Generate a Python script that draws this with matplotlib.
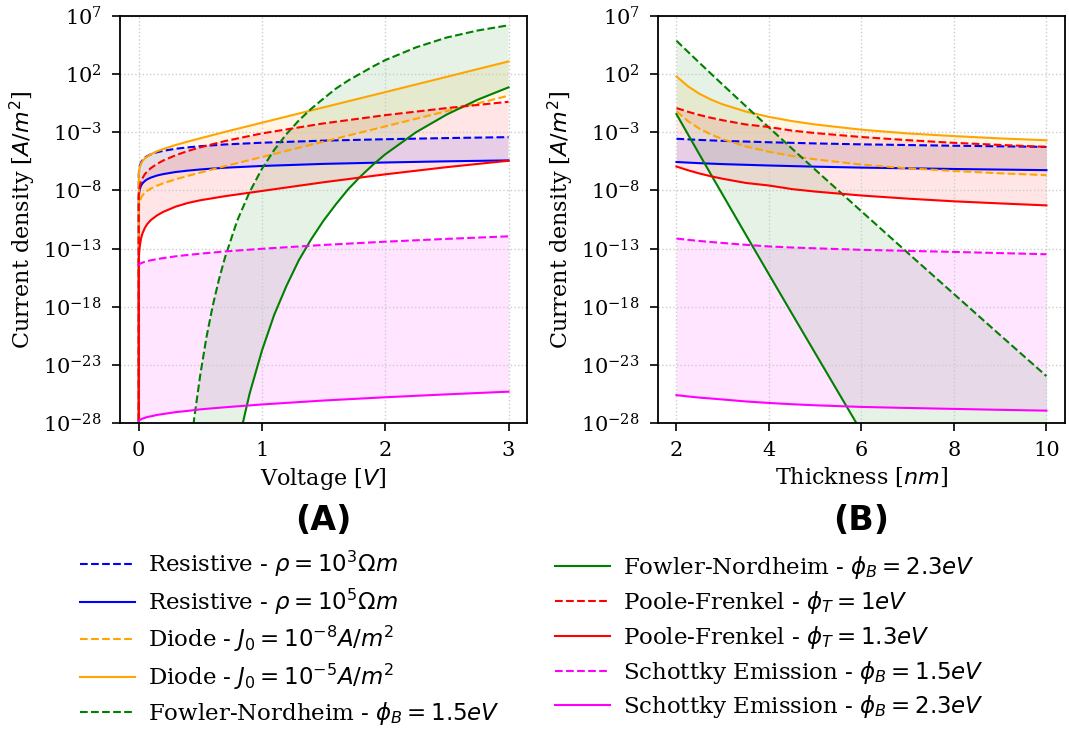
import numpy as np
import matplotlib
matplotlib.use('Agg')
import matplotlib.pyplot as plt
from matplotlib.ticker import NullLocator

plt.rcParams['font.family'] = 'serif'
plt.rcParams['font.serif'] = ['DejaVu Serif']
plt.rcParams['mathtext.fontset'] = 'dejavusans'

# valores, em log10(J [A/m^2]); -inf => J = 0
# (A) densidade de corrente x tensão
voltage = [0, 0.002, 0.005, 0.01, 0.02, 0.03, 0.05, 0.07, 0.1, 0.15, 0.2, 0.3, 0.4, 0.5, 0.7, 1.0, 1.5, 2.0, 2.5, 3.0]
res_1e3 = [-np.inf, -6.6, -6.2, -5.9, -5.6, -5.42, -5.2, -5.05, -4.9, -4.72, -4.6, -4.42, -4.3, -4.2, -4.05, -3.9, -3.72, -3.6, -3.5, -3.42]
res_1e5 = [-np.inf, -8.6, -8.2, -7.9, -7.6, -7.42, -7.2, -7.05, -6.9, -6.72, -6.6, -6.42, -6.3, -6.2, -6.05, -5.9, -5.72, -5.6, -5.5, -5.42]
diode_1e8 = [-np.inf, -9.67, -9.27, -8.96, -8.65, -8.46, -8.21, -8.04, -7.84, -7.59, -7.39, -7.05, -6.75, -6.47, -5.92, -5.13, -3.81, -2.50, -1.18, 0.14]
diode_1e5 = [-np.inf, -6.72, -6.32, -6.01, -5.70, -5.51, -5.26, -5.09, -4.89, -4.64, -4.44, -4.10, -3.80, -3.52, -2.97, -2.18, -0.86, 0.45, 1.77, 3.09]
pf_10 = [-np.inf, -8.5, -8.05, -7.65, -7.25, -6.98, -6.62, -6.38, -6.08, -5.72, -5.43, -4.98, -4.61, -4.30, -3.76, -3.10, -2.24, -1.53, -0.92, -0.38]
pf_13 = [-np.inf, -14.0, -13.35, -12.8, -12.15, -11.75, -11.25, -10.9, -10.55, -10.15, -9.85, -9.4, -9.08, -8.85, -8.5, -8.05, -7.3, -6.62, -6.0, -5.45]
se_15 = [-14.47, -14.40, -14.37, -14.32, -14.26, -14.22, -14.14, -14.09, -14.01, -13.91, -13.82, -13.67, -13.55, -13.44, -13.25, -13.02, -12.69, -12.41, -12.17, -11.95]
se_23 = [-27.9, -27.83, -27.79, -27.75, -27.69, -27.63, -27.57, -27.49, -27.43, -27.31, -27.23, -27.07, -26.96, -26.83, -26.65, -26.41, -26.07, -25.79, -25.54, -25.31]

voltage_fn = [0.3, 0.4, 0.45, 0.5, 0.55, 0.6, 0.65, 0.7, 0.8, 0.9, 1.0, 1.1, 1.2, 1.3, 1.4, 1.5, 1.6, 1.7, 1.8, 1.9, 2.0, 2.25, 2.5, 2.75, 3.0]
fn_15 = [-47.1, -32.6, -27.7, -23.9, -20.66, -18.0, -15.74, -13.8, -10.6, -8.15, -6.15, -4.52, -3.15, -1.98, -0.98, -0.10, 0.75, 1.45, 2.05, 2.65, 3.2, 4.3, 5.15, 5.75, 6.2]
fn_23 = [-98.6, -71.3, -62.2, -54.9, -48.9, -43.8, -39.6, -36.0, -30.1, -25.5, -21.8, -18.7, -16.2, -14.0, -12.2, -10.6, -9.2, -7.9, -6.8, -5.8, -4.9, -3.0, -1.47, -0.2, 0.86]

# (B) densidade de corrente x espessura
thickness = [2, 2.25, 2.5, 2.75, 3, 3.5, 4, 4.5, 5, 6, 7, 8, 9, 10]
res_1e3_t = [-3.56, -3.61, -3.66, -3.70, -3.74, -3.80, -3.86, -3.91, -3.96, -4.04, -4.10, -4.16, -4.21, -4.26]
res_1e5_t = [-5.56, -5.61, -5.66, -5.70, -5.74, -5.80, -5.86, -5.91, -5.96, -6.04, -6.10, -6.16, -6.21, -6.26]
diode_1e8_t = [-1.2, -2.05, -2.7, -3.2, -3.6, -4.22, -4.68, -5.04, -5.33, -5.78, -6.1, -6.33, -6.53, -6.69]
diode_1e5_t = [1.8, 0.95, 0.3, -0.2, -0.6, -1.22, -1.68, -2.04, -2.33, -2.78, -3.1, -3.33, -3.53, -3.69]
fn_15_t = [4.87, 3.91, 2.96, 2.02, 1.09, -0.76, -2.59, -4.41, -6.22, -9.80, -13.37, -16.91, -20.45, -23.97]
fn_23_t = [-1.44, -3.19, -4.93, -6.66, -8.38, -11.81, -15.22, -18.62, -22.0, -28.75, -35.5, -42.2, -49.0, -55.7]
pf_10_t = [-0.92, -1.24, -1.52, -1.76, -1.97, -2.33, -2.55, -2.86, -3.07, -3.41, -3.68, -3.91, -4.09, -4.26]
pf_13_t = [-5.95, -6.27, -6.55, -6.79, -7.0, -7.36, -7.58, -7.89, -8.1, -8.44, -8.71, -8.94, -9.12, -9.29]
se_15_t = [-12.14, -12.25, -12.35, -12.44, -12.52, -12.68, -12.82, -12.91, -12.98, -13.11, -13.2, -13.29, -13.39, -13.49]
se_23_t = [-25.61, -25.72, -25.82, -25.90, -25.98, -26.15, -26.28, -26.39, -26.48, -26.62, -26.71, -26.79, -26.87, -26.94]

labels = [
    r'Resistive - $\rho = 10^3 \Omega m$',
    r'Resistive - $\rho = 10^5 \Omega m$',
    r'Diode - $J_0 = 10^{-8} A/m^2$',
    r'Diode - $J_0 = 10^{-5} A/m^2$',
    r'Fowler-Nordheim - $\phi_B = 1.5eV$',
    r'Fowler-Nordheim - $\phi_B = 2.3eV$',
    r'Poole-Frenkel - $\phi_T = 1eV$',
    r'Poole-Frenkel - $\phi_T = 1.3eV$',
    r'Schottky Emission - $\phi_B = 1.5eV$',
    r'Schottky Emission - $\phi_B = 2.3eV$',
]
colors = ['blue', 'orange', 'green', 'red', 'magenta']


def par(ax, x, dashed, solid, color, lab_d, lab_s):
    jd = 10.0 ** np.array(dashed)
    js = 10.0 ** np.array(solid)
    ax.plot(x, jd, '--', color=color, lw=1.5, label=lab_d)
    ax.plot(x, js, '-', color=color, lw=1.5, label=lab_s)
    ax.fill_between(x, jd, js, color=color, alpha=0.1, lw=0)


fig = plt.figure(figsize=(10.69, 7.29), dpi=100)
ax_a = fig.add_axes([0.1123, 0.4198, 0.3807, 0.5583])
ax_b = fig.add_axes([0.6155, 0.4198, 0.3807, 0.5583])

for ax in (ax_a, ax_b):
    ax.set_yscale('log', nonpositive='clip')

par(ax_a, voltage, res_1e3, res_1e5, colors[0], labels[0], labels[1])
par(ax_a, voltage, diode_1e8, diode_1e5, colors[1], labels[2], labels[3])
par(ax_a, voltage_fn, fn_15, fn_23, colors[2], labels[4], labels[5])
par(ax_a, voltage, pf_10, pf_13, colors[3], labels[6], labels[7])
par(ax_a, voltage, se_15, se_23, colors[4], labels[8], labels[9])

par(ax_b, thickness, res_1e3_t, res_1e5_t, colors[0], labels[0], labels[1])
par(ax_b, thickness, diode_1e8_t, diode_1e5_t, colors[1], labels[2], labels[3])
par(ax_b, thickness, fn_15_t, fn_23_t, colors[2], labels[4], labels[5])
par(ax_b, thickness, pf_10_t, pf_13_t, colors[3], labels[6], labels[7])
par(ax_b, thickness, se_15_t, se_23_t, colors[4], labels[8], labels[9])

ax_a.set_xlim(-0.15, 3.15)
ax_b.set_xlim(1.6, 10.4)
for ax in (ax_a, ax_b):
    ax.set_ylim(1e-28, 1e7)
    ax.set_yticks(10.0 ** np.arange(-28, 8, 5))
    ax.yaxis.set_minor_locator(NullLocator())
    ax.grid(True, ls=':', color='#cccccc', lw=1)
    ax.tick_params(direction='out', length=6, width=1.2, labelsize=15, pad=7)
    for s in ax.spines.values():
        s.set_linewidth(1.3)
    ax.set_ylabel('Current density [$A/m^2$]', fontsize=16)

ax_a.set_xlabel('Voltage [$V$]', fontsize=16)
ax_b.set_xlabel('Thickness [$nm$]', fontsize=16)

fig.text(323.5 / 1069, 1 - 520 / 729, '(A)', ha='center', va='center',
         fontsize=24, fontweight='bold', family='DejaVu Sans')
fig.text(861.5 / 1069, 1 - 520 / 729, '(B)', ha='center', va='center',
         fontsize=24, fontweight='bold', family='DejaVu Sans')

# legenda em duas colunas (duas legendas para acertar o espaçamento)
handles, labs = ax_a.get_legend_handles_labels()
fig.legend(handles[:5], labs[:5], loc='upper left', bbox_to_anchor=(71 / 1069, 1 - 539.5 / 729),
           frameon=False, fontsize=16.5, handlelength=2.4, handletextpad=0.55,
           labelspacing=0.33, borderaxespad=0)
fig.legend(handles[5:], labs[5:], loc='upper left', bbox_to_anchor=(546 / 1069, 1 - 545 / 729),
           frameon=False, fontsize=16.5, handlelength=2.4, handletextpad=0.55,
           labelspacing=0.34, borderaxespad=0)

fig.savefig('out.png', dpi=100)
